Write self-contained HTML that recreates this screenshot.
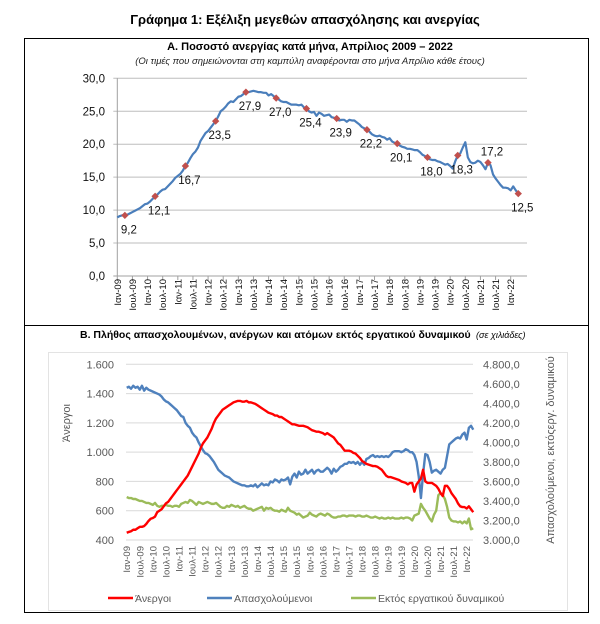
<!DOCTYPE html>
<html><head><meta charset="utf-8">
<style>
body{margin:0;background:#fff;width:600px;height:624px;overflow:hidden;font-family:"Liberation Sans","DejaVu Sans",sans-serif;}
svg{display:block}
</style></head>
<body>
<svg width="600" height="624" xmlns="http://www.w3.org/2000/svg" font-family="Liberation Sans, DejaVu Sans, sans-serif">
<text x="305" y="24" text-anchor="middle" font-size="13" font-weight="bold" fill="#000">Γράφημα 1: Εξέλιξη μεγεθών απασχόλησης και ανεργίας</text>
<rect x="24.5" y="38.5" width="564" height="574" fill="none" stroke="#000" stroke-width="1"/>
<line x1="24" y1="325.5" x2="589" y2="325.5" stroke="#000"/>
<text x="310" y="50" text-anchor="middle" font-size="11" font-weight="bold">Α. Ποσοστό ανεργίας κατά μήνα, Απρίλιος 2009 – 2022</text>
<text x="310" y="64" text-anchor="middle" font-size="9.5" font-style="italic" fill="#222">(Οι τιμές που σημειώνονται στη καμπύλη αναφέρονται στο μήνα Απρίλιο κάθε έτους)</text>
<g id="chartA"></g>
<text x="80" y="338" font-size="10.5" font-weight="bold">Β. Πλήθος απασχολουμένων, ανέργων και ατόμων εκτός εργατικού δυναμικού <tspan font-weight="normal" font-style="italic" font-size="9">&#160;(σε χιλιάδες)</tspan></text>
<rect x="48.5" y="352.5" width="519" height="258" fill="none" stroke="#e3e3e3"/>
<g id="chartB"></g>
</svg>
<script>
const NS="http://www.w3.org/2000/svg";
// ---- Chart A data ----
const rateValues=[8.9,9.1,9.2,9.2,9.3,9.5,9.7,9.9,10.1,10.3,10.6,10.9,
11.0,11.3,11.7,12.1,12.4,12.8,13.1,13.2,13.6,14.0,14.4,14.9,
15.2,15.5,16.0,16.7,17.2,17.9,18.5,18.9,19.5,20.5,21.1,21.7,
22.0,22.5,23.0,23.5,24.2,25.0,25.3,25.7,26.2,26.5,26.4,26.8,
27.2,27.3,27.6,27.9,27.9,28.0,28.1,28.0,27.9,27.9,27.8,27.8,
27.4,27.6,27.3,27.0,26.8,26.5,26.4,26.4,26.2,26.0,26.0,26.0,
25.9,26.0,25.6,25.4,25.0,24.8,24.9,24.3,24.8,24.6,24.3,24.4,
24.5,24.1,24.0,23.9,23.6,23.7,23.7,23.4,23.7,23.6,23.6,23.3,
23.0,22.6,22.4,22.2,21.9,21.5,21.3,21.2,21.3,21.1,21.0,20.7,
20.9,20.4,20.2,20.1,19.8,19.6,19.5,19.3,19.3,19.2,19.1,19.1,
18.8,18.4,18.2,18.0,17.7,17.6,17.6,17.4,17.3,17.1,16.9,17.0,
16.7,16.3,17.4,18.3,18.6,19.5,20.3,18.0,17.3,17.1,17.2,17.5,
17.3,16.8,16.2,17.2,16.8,15.4,14.8,14.3,13.8,13.4,13.4,13.3,
13.0,13.6,13.0,12.5];
const aprilLabels=["9,2","12,1","16,7","23,5","27,9","27,0","25,4","23,9","22,2","20,1","18,0","18,3","17,2","12,5"];
const aTicks=["0,0","5,0","10,0","15,0","20,0","25,0","30,0"];
const xLabels=["Ιαν-09","Ιουλ-09","Ιαν-10","Ιουλ-10","Ιαν-11","Ιουλ-11","Ιαν-12","Ιουλ-12","Ιαν-13","Ιουλ-13","Ιαν-14","Ιουλ-14","Ιαν-15","Ιουλ-15","Ιαν-16","Ιουλ-16","Ιαν-17","Ιουλ-17","Ιαν-18","Ιουλ-18","Ιαν-19","Ιουλ-19","Ιαν-20","Ιουλ-20","Ιαν-21","Ιουλ-21","Ιαν-22"];
// ---- Chart B data ----
const unemployed=[450,455,460,470,470,480,490,490,495,510,530,545,
550,560,590,600,610,630,650,660,680,700,720,740,
760,780,800,820,840,870,900,930,960,990,1030,1060,
1080,1100,1130,1160,1200,1230,1250,1270,1290,1300,1310,1320,
1330,1340,1345,1350,1350,1345,1345,1350,1340,1340,1335,1330,
1320,1310,1300,1290,1280,1270,1265,1260,1250,1250,1240,1240,
1230,1220,1210,1200,1190,1190,1185,1180,1180,1180,1175,1170,
1160,1150,1145,1140,1140,1135,1130,1120,1130,1120,1110,1100,
1080,1060,1050,1030,1010,1010,1010,1005,995,990,975,960,
940,930,920,915,910,905,905,900,890,880,860,840,
830,830,825,820,815,810,800,795,790,780,790,790,
730,780,800,820,880,800,790,790,790,780,770,750,
720,700,770,770,750,720,700,680,650,630,625,625,
615,630,610,590];
const employed=[4560,4570,4550,4580,4560,4570,4540,4580,4530,4560,4540,4530,
4520,4510,4500,4490,4470,4440,4420,4410,4390,4370,4350,4330,
4300,4270,4260,4200,4170,4150,4100,4070,4050,4000,3960,3920,
3890,3880,3860,3830,3800,3760,3720,3700,3680,3660,3650,3640,
3620,3600,3590,3580,3570,3560,3560,3550,3550,3560,3550,3570,
3540,3560,3580,3560,3570,3560,3600,3590,3620,3610,3590,3620,
3610,3620,3640,3570,3650,3680,3640,3700,3670,3680,3720,3680,
3700,3720,3680,3710,3720,3700,3700,3720,3740,3720,3680,3730,
3700,3720,3750,3760,3780,3780,3800,3790,3800,3780,3800,3770,
3800,3770,3830,3840,3860,3870,3850,3860,3850,3860,3850,3860,
3850,3870,3900,3910,3910,3910,3900,3910,3930,3920,3900,3900,
3870,3800,3650,3430,3680,3880,3870,3800,3690,3710,3720,3700,
3680,3720,3740,3860,3980,4000,4020,4040,4050,4040,4080,4100,
4030,4150,4170,4130];
const inactive=[3440,3430,3430,3420,3420,3410,3400,3400,3390,3380,3380,3370,
3360,3380,3350,3340,3350,3350,3360,3350,3350,3340,3350,3350,
3340,3370,3380,3390,3380,3410,3400,3380,3360,3390,3380,3370,
3380,3390,3380,3370,3370,3380,3360,3340,3330,3330,3350,3340,
3360,3350,3340,3350,3330,3340,3350,3330,3320,3320,3300,3310,
3320,3330,3340,3300,3330,3320,3330,3310,3300,3300,3290,3310,
3300,3290,3330,3300,3290,3280,3260,3270,3250,3230,3240,3250,
3280,3260,3250,3240,3260,3270,3260,3250,3270,3260,3240,3230,
3230,3240,3240,3250,3250,3240,3250,3250,3250,3240,3250,3250,
3240,3240,3250,3240,3230,3230,3240,3230,3220,3230,3220,3220,
3230,3220,3230,3220,3220,3220,3230,3220,3230,3230,3220,3200,
3250,3260,3270,3370,3330,3300,3260,3220,3190,3260,3300,3460,
3480,3460,3420,3340,3230,3200,3190,3190,3180,3190,3170,3190,
3170,3220,3110,3120];
const leftTicks=["400","600","800","1.000","1.200","1.400","1.600"];
const rightTicks=["3.000,0","3.200,0","3.400,0","3.600,0","3.800,0","4.000,0","4.200,0","4.400,0","4.600,0","4.800,0"];
const legendNames=["Άνεργοι","Απασχολούμενοι","Εκτός εργατικού δυναμικού"];

function mk(parent,tag,attrs,text){const e=document.createElementNS(NS,tag);for(const k in attrs)e.setAttribute(k,attrs[k]);if(text!==undefined)e.textContent=text;parent.appendChild(e);return e;}

// ---- Chart A ----
(function(){
const g=document.getElementById('chartA');
const x0=117.3,x1=510.7,yTop=78.3,yBot=276;
const xA=i=>x0+(x1-x0)*i/156;
const yA=v=>yBot-(yBot-yTop)*v/30;
aTicks.forEach((t,i)=>{
  const v=i*5,y=yA(v);
  const l=mk(g,'line',{x1:x0-4,x2:527,y1:y,y2:y,stroke:i===0?'#a0a0a0':'#bdbdbd','stroke-width':1});
  
  
  const tx=mk(g,'text',{x:105,y:y+4,'text-anchor':'end','font-size':11.5,fill:'#111'},t);
  
  
});
const ax=mk(g,'line',{x1:x0,x2:x0,y1:yTop,y2:yBot,stroke:'#a0a0a0'});


xLabels.forEach((t,k)=>{
  const x=xA(k*6);
  const tk=mk(g,'line',{x1:x,x2:x,y1:yBot,y2:yBot+4,stroke:'#a0a0a0'});
  
  
  const tx=mk(g,'text',{x:0,y:0,transform:`translate(${x+3.5},${yBot+3}) rotate(-90)`,'text-anchor':'end','font-size':9.5,fill:'#111'},t);
  
  
});
const pts=rateValues.map((v,i)=>xA(i).toFixed(2)+','+yA(v).toFixed(2)).join(' ');
const pl=mk(g,'polyline',{points:pts,fill:'none',stroke:'#4a7ebb','stroke-width':2.2,'stroke-linejoin':'round'});


aprilLabels.forEach((t,k)=>{
  const i=3+12*k,x=xA(i),y=yA(rateValues[i]);
  const d=mk(g,'rect',{x:x-2.6,y:y-2.6,width:5.2,height:5.2,fill:'#c0504d',transform:`rotate(45 ${x} ${y})`});
  
  
  const above=(k===12);
  const tx=mk(g,'text',{x:x+4,y:above?y-7:y+18,'text-anchor':'middle','font-size':11.5,fill:'#111'},t);
  
  
});
})();

// ---- Chart B ----
(function(){
const g=document.getElementById('chartB');
const x0=126.7,x1=466.7,yTop=364.3,yBot=540;
const xB=i=>x0+(x1-x0)*i/156;
const yL=v=>yBot-(yBot-yTop)*(v-400)/1200;
const yR=v=>yBot-(yBot-yTop)*(v-3000)/1800;
leftTicks.forEach((t,i)=>{
  const y=yL(400+i*200);
  const l=mk(g,'line',{x1:126,x2:473,y1:y,y2:y,stroke:'#d9d9d9'});
  
  
  const tx=mk(g,'text',{x:114,y:y+4,'text-anchor':'end','font-size':11,fill:'#595959'},t);
  
  
});
rightTicks.forEach((t,i)=>{
  const y=yR(3000+i*200);
  const tx=mk(g,'text',{x:483,y:y+4,'font-size':11,fill:'#595959'},t);
  
  
});
xLabels.forEach((t,k)=>{
  const x=xB(k*6);
  const tx=mk(g,'text',{x:0,y:0,transform:`translate(${x+3.5},${yBot+6}) rotate(-90)`,'text-anchor':'end','font-size':9.5,fill:'#595959'},t);
  
  
});
const lt=mk(g,'text',{x:0,y:0,transform:'translate(70,423) rotate(-90)','text-anchor':'middle','font-size':11,fill:'#595959'},'Άνεργοι');


const rt=mk(g,'text',{x:0,y:0,transform:'translate(554,450) rotate(-90)','text-anchor':'middle','font-size':11,fill:'#595959'},'Απασχολούμενοι, εκτόςεργ. δυναμικού');


const series=[[unemployed,yL,'#ff0000','unemployed-line'],[employed,yR,'#4f81bd','employed-line'],[inactive,yR,'#9bbb59','inactive-line']];
[series[2],series[1],series[0]].forEach(s=>{
  const pts=s[0].map((v,i)=>xB(i).toFixed(2)+','+s[1](v).toFixed(2)).join(' ');
  const pl=mk(g,'polyline',{points:pts,fill:'none',stroke:s[2],'stroke-width':2.4,'stroke-linejoin':'round'});
  
  
});
const lx=[108,207,351];
legendNames.forEach((n,i)=>{
  const l=mk(g,'line',{x1:lx[i],x2:lx[i]+25,y1:598,y2:598,stroke:series[i][2],'stroke-width':2.6});
  
  
  const tx=mk(g,'text',{x:lx[i]+27,y:602,'font-size':10.5,fill:'#595959'},n);
  
  
});
})();
</script>
</body></html>
